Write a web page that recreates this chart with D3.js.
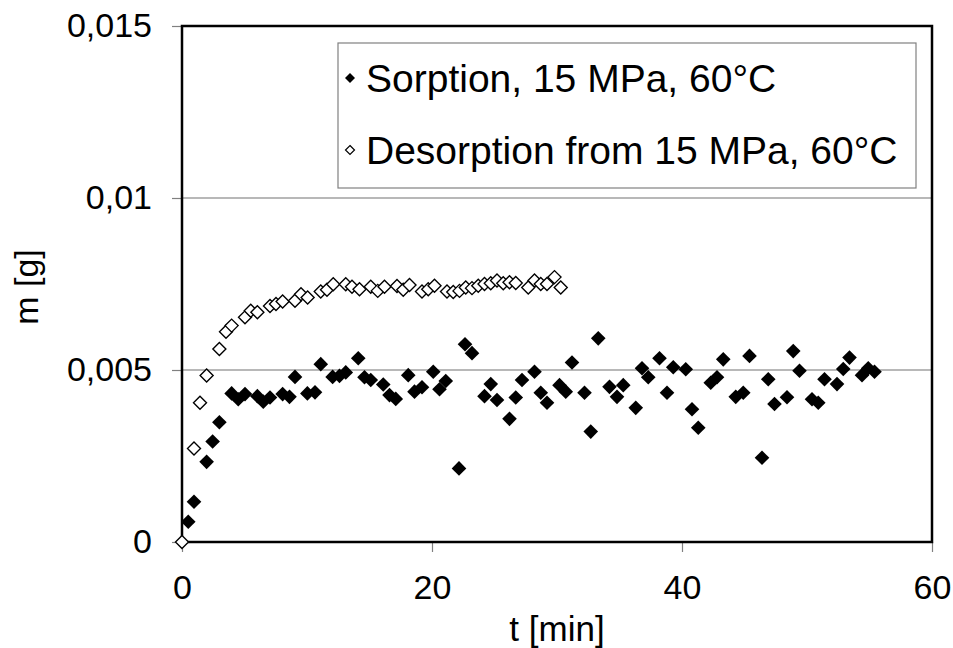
<!DOCTYPE html>
<html><head><meta charset="utf-8">
<script src="https://cdn.jsdelivr.net/npm/d3@7"></script>
<style>
body{margin:0;background:#fff;}
text{font-family:"Liberation Sans",Arial,sans-serif;fill:#000;}
</style></head>
<body><svg id="c" width="953" height="648"></svg>
<script>
const sorptionT = [0.5,0.96,1.97,2.45,2.99,3.97,4.5,5.04,6.03,6.5,7.04,8.05,8.6,9.04,10.03,10.64,11.1,12.05,12.6,13.1,14.1,14.6,15.1,16.1,16.6,17.1,18.1,18.6,19.2,20.1,20.6,21.1,22.16,22.64,23.2,24.2,24.7,25.2,26.2,26.7,27.2,28.2,28.7,29.2,30.2,30.7,31.2,32.2,32.7,33.3,34.2,34.8,35.3,36.3,36.8,37.3,38.2,38.8,39.3,40.3,40.8,41.3,42.3,42.8,43.3,44.3,44.9,45.4,46.4,46.9,47.4,48.4,48.9,49.4,50.4,50.9,51.4,52.4,52.9,53.4,54.4,54.9,55.4];
const sorptionM = [0.00059,0.00117,0.00233,0.00292,0.00348,0.00432,0.00415,0.0043,0.00424,0.00408,0.0042,0.0043,0.00422,0.0048,0.00432,0.00435,0.00517,0.0048,0.00483,0.00493,0.00534,0.00479,0.00471,0.00458,0.00427,0.00416,0.00485,0.00437,0.0045,0.00495,0.00444,0.00468,0.00214,0.00575,0.00549,0.00424,0.00459,0.00413,0.00358,0.0042,0.00471,0.00495,0.00434,0.00405,0.00456,0.00437,0.00522,0.00434,0.00321,0.00592,0.00451,0.00422,0.00456,0.0039,0.00505,0.00479,0.00534,0.00434,0.00508,0.00502,0.00386,0.00332,0.00463,0.00479,0.00531,0.00422,0.00434,0.00541,0.00245,0.00473,0.00401,0.00421,0.00555,0.00498,0.00415,0.00405,0.00473,0.00459,0.00503,0.00536,0.00485,0.00505,0.00495];
const desorptionT = [0,0.96,1.44,1.97,2.99,3.52,3.97,5.04,5.5,6.03,7.04,7.52,8.05,9.04,9.52,10.05,11.1,11.6,12.1,13.1,13.6,14.2,15.1,15.66,16.2,17.2,17.7,18.2,19.2,19.7,20.2,21.2,21.7,22.2,22.7,23.2,23.7,24.2,24.7,25.2,25.7,26.2,26.7,27.7,28.2,28.7,29.2,29.8,30.3];
const desorptionM = [0,0.00272,0.00405,0.00484,0.00561,0.00611,0.00629,0.00653,0.00672,0.00668,0.00686,0.00692,0.00699,0.00701,0.0072,0.00711,0.00728,0.00733,0.00749,0.00749,0.00742,0.00735,0.00742,0.0073,0.00742,0.00744,0.00733,0.00747,0.00728,0.00735,0.00745,0.00728,0.00727,0.0073,0.0074,0.00738,0.00745,0.0075,0.00752,0.0076,0.00752,0.00755,0.00753,0.0074,0.0076,0.0075,0.0075,0.0077,0.0074];
const xTicks = [0,20,40,60];
const yTicks = [0,0.005,0.01,0.015];
const yTickLabels = ["0","0,005","0,01","0,015"];
const seriesNames = ["Sorption, 15 MPa, 60°C","Desorption from 15 MPa, 60°C"];

const svg = d3.select("#c");
const L=182, R=932, T=26, B=542;
const FS = "34px";
const x = d3.scaleLinear().domain([0,60]).range([L,R]);
const y = d3.scaleLinear().domain([0,0.015]).range([B,T]);

// gridlines
svg.append("g").selectAll("line").data(yTicks.filter(v=>v>0&&v<0.015)).join("line")
  .attr("x1",L).attr("x2",R).attr("y1",d=>y(d)).attr("y2",d=>y(d))
  .attr("stroke","#a0a0a0").attr("stroke-width",1.5);

// axes
const xAxis = svg.append("g").attr("transform",`translate(0,${B})`)
  .call(d3.axisBottom(x).tickValues(xTicks).tickSize(10).tickPadding(23));
const yAxis = svg.append("g").attr("transform",`translate(${L},0)`)
  .call(d3.axisLeft(y).tickValues(yTicks).tickSize(10).tickPadding(20).tickFormat((d,i)=>yTickLabels[i]));
[xAxis,yAxis].forEach(a=>{
  a.select(".domain").remove();
  a.selectAll(".tick line").attr("stroke","#808080").attr("stroke-width",1.2);
  a.selectAll(".tick text").style("font-family","'Liberation Sans',Arial,sans-serif").style("font-size",FS).attr("fill","#000");
});
xAxis.selectAll(".tick text").attr("dy","0.71em");

// frame
svg.append("rect").attr("x",L).attr("y",T).attr("width",R-L).attr("height",B-T)
  .attr("fill","none").attr("stroke","#000").attr("stroke-width",2.5);

const diamond = s => `M0,${-s}L${s},0L0,${s}L${-s},0Z`;

// desorption hollow
svg.append("g").selectAll("path").data(desorptionT.map((t,i)=>[t,desorptionM[i]])).join("path")
  .attr("d",diamond(6.5)).attr("transform",d=>`translate(${x(d[0])},${y(d[1])})`)
  .attr("fill","#fff").attr("stroke","#000").attr("stroke-width",1.4);
// sorption filled
svg.append("g").selectAll("path").data(sorptionT.map((t,i)=>[t,sorptionM[i]])).join("path")
  .attr("d",diamond(7.3)).attr("transform",d=>`translate(${x(d[0])},${y(d[1])})`)
  .attr("fill","#000");

// legend
const lg = svg.append("g");
lg.append("rect").attr("x",338).attr("y",43).attr("width",578).attr("height",145)
  .attr("fill","#fff").attr("stroke","#808080").attr("stroke-width",1.2);
const rows=[78,150];
lg.append("path").attr("d",diamond(5)).attr("transform",`translate(350,${rows[0]})`).attr("fill","#000");
lg.append("path").attr("d",diamond(4.5)).attr("transform",`translate(350,${rows[1]})`).attr("fill","#fff").attr("stroke","#000").attr("stroke-width",1.2);
seriesNames.forEach((n,i)=>{
  lg.append("text").attr("x",366).attr("y",rows[i]).attr("dy","0.36em").style("font-size","39px").text(n);
});

// axis titles
svg.append("text").attr("x",(L+R)/2).attr("y",641).attr("text-anchor","middle").style("font-size","35px").text("t [min]");
svg.append("text").attr("transform","translate(38,287) rotate(-90)").attr("text-anchor","middle").style("font-size",FS).text("m [g]");
</script></body></html>
